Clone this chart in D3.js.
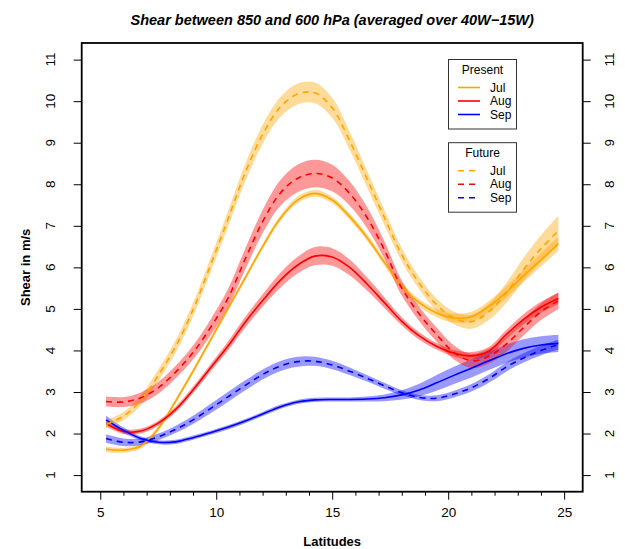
<!DOCTYPE html>
<html>
<head>
<meta charset="UTF-8">
<title>Shear</title>
<script src="https://cdn.jsdelivr.net/npm/d3@7"></script>
<style>
  body { margin: 0; background: #fff; }
  svg text { font-family: "Liberation Sans", Arial, Helvetica, sans-serif; fill: #000; }
</style>
</head>
<body>
<svg id="chart" width="625" height="549"></svg>
<script>

// latitudes of the curves
var lat = [5.25, 6, 6.75, 7.5, 8.25, 9, 9.75, 10.5, 11.25, 12, 12.75, 13.5, 14.25, 15,
           15.75, 16.5, 17.25, 18, 18.75, 19.5, 20.25, 21, 21.75, 22.5, 23.25, 24, 24.75];

// present (solid) and future (dashed) shear, m/s
var julPresent = [1.62, 1.60, 1.70, 2.12, 2.78, 3.50, 4.25, 5.00, 5.75, 6.50, 7.17, 7.62, 7.78, 7.62,
                  7.22, 6.72, 6.12, 5.55, 5.15, 4.90, 4.78, 4.81, 5.06, 5.40, 5.80, 6.18, 6.57];
var julFuture  = [2.22, 2.42, 2.80, 3.40, 4.10, 4.98, 6.05, 7.15, 8.28, 9.20, 9.85, 10.17, 10.20, 9.84,
                  9.05, 8.13, 7.20, 6.30, 5.62, 5.10, 4.78, 4.69, 4.93, 5.38, 5.95, 6.45, 6.88];
var augPresent = [2.24, 2.05, 2.06, 2.25, 2.58, 3.05, 3.58, 4.10, 4.68, 5.20, 5.68, 6.05, 6.27, 6.25,
                  6.00, 5.60, 5.15, 4.70, 4.35, 4.10, 3.93, 3.87, 3.98, 4.38, 4.75, 5.04, 5.25];
var augFuture  = [2.77, 2.76, 2.86, 3.10, 3.48, 3.95, 4.55, 5.25, 6.20, 7.10, 7.78, 8.14, 8.26, 8.15,
                  7.78, 7.20, 6.42, 5.50, 4.88, 4.38, 3.95, 3.75, 3.86, 4.15, 4.55, 4.93, 5.20];
var sepPresent = [2.33, 2.08, 1.88, 1.79, 1.80, 1.90, 2.02, 2.15, 2.30, 2.47, 2.64, 2.76, 2.81, 2.82,
                  2.82, 2.83, 2.86, 2.93, 3.05, 3.22, 3.40, 3.57, 3.75, 3.92, 4.05, 4.13, 4.17];
var sepFuture  = [1.88, 1.79, 1.80, 1.92, 2.10, 2.33, 2.60, 2.88, 3.16, 3.42, 3.62, 3.73, 3.74, 3.65,
                  3.50, 3.33, 3.15, 2.98, 2.87, 2.85, 2.95, 3.10, 3.32, 3.60, 3.82, 4.00, 4.14];

// half widths of the shaded uncertainty bands
var julPresentHw = [0.07, 0.06, 0.06, 0.06, 0.06, 0.06, 0.06, 0.06, 0.06, 0.06, 0.07, 0.08, 0.08, 0.08,
                    0.08, 0.08, 0.08, 0.08, 0.09, 0.10, 0.11, 0.12, 0.13, 0.14, 0.15, 0.16, 0.17];
var julFutureHw  = [0.10, 0.10, 0.12, 0.14, 0.15, 0.16, 0.17, 0.19, 0.21, 0.23, 0.24, 0.25, 0.25, 0.24,
                    0.22, 0.20, 0.18, 0.16, 0.15, 0.15, 0.15, 0.17, 0.20, 0.24, 0.28, 0.32, 0.36];
var augPresentHw = [0.07, 0.06, 0.06, 0.06, 0.07, 0.08, 0.09, 0.11, 0.13, 0.15, 0.18, 0.20, 0.22, 0.21,
                    0.19, 0.16, 0.13, 0.10, 0.09, 0.08, 0.08, 0.09, 0.10, 0.11, 0.12, 0.13, 0.14];
var augFutureHw  = [0.12, 0.12, 0.13, 0.14, 0.15, 0.17, 0.19, 0.22, 0.25, 0.28, 0.31, 0.33, 0.33, 0.32,
                    0.29, 0.25, 0.21, 0.18, 0.17, 0.17, 0.17, 0.17, 0.18, 0.18, 0.19, 0.20, 0.20];
var sepPresentHw = [0.10, 0.07, 0.05, 0.05, 0.05, 0.05, 0.05, 0.05, 0.05, 0.05, 0.05, 0.05, 0.05, 0.05,
                    0.05, 0.06, 0.08, 0.11, 0.15, 0.19, 0.21, 0.22, 0.22, 0.22, 0.22, 0.21, 0.21];
var sepFutureHw  = [0.10, 0.09, 0.08, 0.08, 0.09, 0.10, 0.11, 0.12, 0.12, 0.12, 0.12, 0.12, 0.11, 0.10,
                    0.09, 0.08, 0.07, 0.06, 0.06, 0.07, 0.08, 0.09, 0.10, 0.11, 0.11, 0.12, 0.12];

var months = ["Jul", "Aug", "Sep"];
var xTicks = [5, 10, 15, 20, 25];
var xMinorTicks = [6, 7, 8, 9, 11, 12, 13, 14, 16, 17, 18, 19, 21, 22, 23, 24];
var yTicks = [1, 2, 3, 4, 5, 6, 7, 8, 9, 10, 11];

var colors = {Jul: "#FFA500", Aug: "#FF0000", Sep: "#0000FF"};

var series = [
  {month: "Jul", kind: "present", v: julPresent, hw: julPresentHw},
  {month: "Aug", kind: "present", v: augPresent, hw: augPresentHw},
  {month: "Sep", kind: "present", v: sepPresent, hw: sepPresentHw},
  {month: "Jul", kind: "future",  v: julFuture,  hw: julFutureHw},
  {month: "Aug", kind: "future",  v: augFuture,  hw: augFutureHw},
  {month: "Sep", kind: "future",  v: sepFuture,  hw: sepFutureHw}
];

var plotL = 81.7, plotR = 582.7, plotT = 43, plotB = 491.7;

var x = d3.scaleLinear().domain([4.2, 25.8]).range([plotL, plotR]);
var y = d3.scaleLinear().domain([0.6, 11.4]).range([plotB, plotT]);

var svg = d3.select("#chart");

// bands
var area = d3.area()
    .curve(d3.curveCatmullRom)
    .x(function (d) { return x(d.lat); })
    .y0(function (d) { return y(d.v - d.hw); })
    .y1(function (d) { return y(d.v + d.hw); });

var line = d3.line()
    .curve(d3.curveCatmullRom)
    .x(function (d) { return x(d.lat); })
    .y(function (d) { return y(d.v); });

function pts(s) {
  return lat.map(function (l, i) { return {lat: l, v: s.v[i], hw: s.hw[i]}; });
}

svg.append("g").selectAll("path").data(series).enter().append("path")
    .attr("d", function (s) { return area(pts(s)); })
    .attr("fill", function (s) { return colors[s.month]; })
    .attr("fill-opacity", 0.4)
    .attr("stroke", "none");

svg.append("g").selectAll("path").data(series).enter().append("path")
    .attr("d", function (s) { return line(pts(s)); })
    .attr("fill", "none")
    .attr("stroke", function (s) { return colors[s.month]; })
    .attr("stroke-width", 1.6)
    .attr("stroke-dasharray", function (s) { return s.kind == "future" ? "6,5" : null; });

// frame
svg.append("rect")
    .attr("x", plotL).attr("y", plotT)
    .attr("width", plotR - plotL).attr("height", plotB - plotT)
    .attr("fill", "none").attr("stroke", "#000").attr("stroke-width", 1.8);

// x axis
var xAxis = d3.axisBottom(x).tickValues(xTicks).tickSize(8).tickPadding(17).tickFormat(d3.format("d"));
var gx = svg.append("g").attr("transform", "translate(0," + plotB + ")").call(xAxis);
gx.select(".domain").remove();
gx.selectAll("text").style("font-size", "13.5px").attr("dy", "0");
gx.selectAll("line").attr("stroke", "#000");

var xMinor = d3.axisBottom(x).tickValues(xMinorTicks).tickSize(4).tickFormat("");
var gxm = svg.append("g").attr("transform", "translate(0," + plotB + ")").call(xMinor);
gxm.select(".domain").remove();

// y axes (left and right), labels rotated as in R
function yAxisSide(axisFn, xpos, labelX) {
  var g = svg.append("g").attr("transform", "translate(" + xpos + ",0)")
      .call(axisFn(y).tickValues(yTicks).tickSize(8).tickFormat(""));
  g.select(".domain").remove();
  g.selectAll("line").attr("stroke", "#000");
  svg.append("g").selectAll("text").data(yTicks).enter().append("text")
      .attr("transform", function (d) { return "translate(" + labelX + "," + y(d) + ") rotate(-90)"; })
      .attr("text-anchor", "middle")
      .attr("dy", "0.35em")
      .style("font-size", "13.5px")
      .text(function (d) { return d; });
}
yAxisSide(d3.axisLeft, plotL, 50);
yAxisSide(d3.axisRight, plotR, 609);

// titles
svg.append("text")
    .attr("x", (plotL + plotR) / 2).attr("y", 25)
    .attr("text-anchor", "middle")
    .style("font-size", "14.5px").style("font-weight", "bold").style("font-style", "italic")
    .text("Shear between 850 and 600 hPa (averaged over 40W\u221215W)");

svg.append("text")
    .attr("x", (plotL + plotR) / 2).attr("y", 546)
    .attr("text-anchor", "middle")
    .style("font-size", "13px").style("font-weight", "bold")
    .text("Latitudes");

svg.append("text")
    .attr("transform", "translate(25," + ((plotT + plotB) / 2) + ") rotate(-90)")
    .attr("text-anchor", "middle")
    .attr("dy", "0.35em")
    .style("font-size", "13px").style("font-weight", "bold")
    .text("Shear in m/s");

// legends
function legend(title, ytop, dashed) {
  var g = svg.append("g");
  g.append("rect")
      .attr("x", 448.5).attr("y", ytop).attr("width", 68).attr("height", 69.5)
      .attr("fill", "#fff").attr("stroke", "#333").attr("stroke-width", 1);
  g.append("text")
      .attr("x", 482.5).attr("y", ytop + 10.5).attr("dy", "0.35em")
      .attr("text-anchor", "middle").style("font-size", "12px")
      .text(title);
  var rows = [28, 41.5, 55];
  months.forEach(function (m, i) {
    g.append("line")
        .attr("x1", 458).attr("x2", 480)
        .attr("y1", ytop + rows[i]).attr("y2", ytop + rows[i])
        .attr("stroke", colors[m]).attr("stroke-width", 1.6)
        .attr("stroke-dasharray", dashed ? "6,5" : null);
    g.append("text")
        .attr("x", 490).attr("y", ytop + rows[i]).attr("dy", "0.35em")
        .style("font-size", "12px")
        .text(m);
  });
}
legend("Present", 59.5, false);
legend("Future", 142.7, true);

</script>
</body>
</html>
